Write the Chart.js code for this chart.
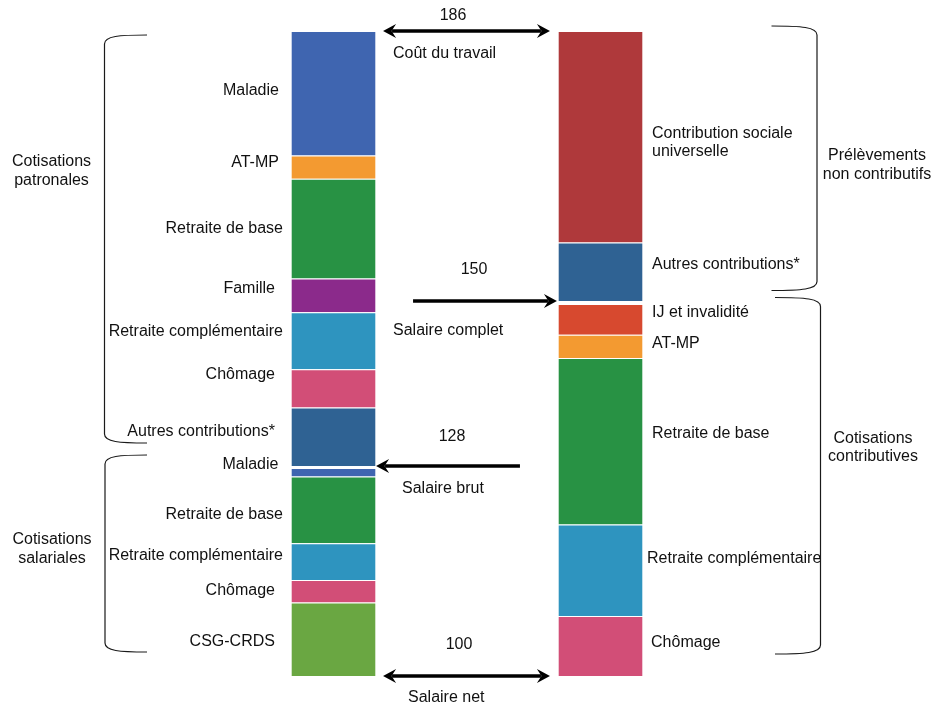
<!DOCTYPE html>
<html lang="fr">
<head>
<meta charset="utf-8">
<title>Du coût du travail au salaire net</title>
<script src="https://cdn.jsdelivr.net/npm/chart.js@4/dist/chart.umd.min.js"></script>
<style>
  html, body { margin: 0; padding: 0; background: #ffffff; }
  #wrap { width: 934px; height: 707px; position: relative; }
</style>
</head>
<body>
<div id="wrap"><canvas id="c" width="934" height="707"></canvas></div>
<script>
// Both columns start from the net wage (base 100) and stack upward.
const categories = ['Par payeur', 'Par nature'];
const salaireNet = 100;

// Left column, bottom to top
const salarialesLabels = ['CSG-CRDS', 'Chômage', 'Retraite complémentaire', 'Retraite de base', 'Maladie'];
const salarialesValues = [9.8, 3.0, 4.9, 8.9, 1.4];
const patronalesLabels = ['Autres contributions*', 'Chômage', 'Retraite complémentaire', 'Famille', 'Retraite de base', 'AT-MP', 'Maladie'];
const patronalesValues = [7.8, 5.1, 7.6, 4.5, 13.3, 3.1, 16.6];

// Right column, bottom to top
const contributivesLabels = ['Chômage', 'Retraite complémentaire', 'Retraite de base', 'AT-MP', 'IJ et invalidité'];
const contributivesValues = [8.0, 12.2, 22.2, 3.1, 4.5];
const nonContributifsLabels = ['Autres contributions*', ['Contribution sociale', 'universelle']];
const nonContributifsValues = [7.8, 28.2];

// Wage levels marked by arrows between the columns
const niveauxLabels = ['Salaire net', 'Salaire brut', 'Salaire complet', 'Coût du travail'];
const niveauxValues = [100, 128, 150, 186];

// Group captions next to the braces
const groupesLabels = [['Cotisations', 'patronales'], ['Cotisations', 'salariales'], ['Prélèvements', 'non contributifs'], ['Cotisations', 'contributives']];

// ---- styling ----
const COL = {
  maladie: '#3F65B0', atmp: '#F39A31', retraiteBase: '#289244', famille: '#8B2A8B',
  retraiteCompl: '#2E94BF', chomage: '#D24E77', autres: '#2F6293', csg: '#6AA742',
  csu: '#AF393B', ij: '#D7492F'
};
const salarialesColors = [COL.csg, COL.chomage, COL.retraiteCompl, COL.retraiteBase, COL.maladie];
const patronalesColors = [COL.autres, COL.chomage, COL.retraiteCompl, COL.famille, COL.retraiteBase, COL.atmp, COL.maladie];
const contributivesColors = [COL.chomage, COL.retraiteCompl, COL.retraiteBase, COL.atmp, COL.ij];
const nonContributifsColors = [COL.autres, COL.csu];

// label fine placement [dx, dy] in pixels
const salarialesNudge = [[-8, 2.5], [-8, -1], [0, -6.5], [0, 5], [-4.5, -7]];
const patronalesNudge = [[-8, -5], [-8, -14], [0, -9], [-8, -6.4], [0, 0], [-4, -4.5], [-4, -3]];
const contributivesNudge = [[-1, -3], [-5, -12], [0, -8], [0, -3], [0, -5]];
const nonContributifsNudge = [[0, -7], [0, 6]];

const FONT = '16px "Liberation Sans", Arial, Helvetica, sans-serif';
const INK = '#111111';

function segments(labels, values, colors, nudges, col, gapIndex, gapWidth) {
  return values.map((v, i) => {
    const gap = i === gapIndex;
    return {
      label: labels[i],
      data: col === 0 ? [v, null] : [null, v],
      backgroundColor: colors[i],
      borderColor: gap ? '#ffffff' : 'rgba(255,255,255,0.45)',
      borderWidth: { top: gap ? gapWidth : 1, bottom: 0, left: 0, right: 0 },
      borderSkipped: false,
      _col: col,
      _nudge: nudges[i]
    };
  });
}

const datasets = [
  { label: 'Salaire net', data: [salaireNet, salaireNet], backgroundColor: 'rgba(0,0,0,0)', borderWidth: 0 },
  ...segments(salarialesLabels, salarialesValues, salarialesColors, salarialesNudge, 0, salarialesValues.length - 1, 3),
  ...segments(patronalesLabels, patronalesValues, patronalesColors, patronalesNudge, 0, -1, 0),
  ...segments(contributivesLabels, contributivesValues, contributivesColors, contributivesNudge, 1, contributivesValues.length - 1, 4),
  ...segments(nonContributifsLabels, nonContributifsValues, nonContributifsColors, nonContributifsNudge, 1, -1, 0)
];

function drawLines(ctx, lines, x, cy, lh) {
  const arr = Array.isArray(lines) ? lines : [lines];
  const start = cy - (arr.length - 1) * lh / 2;
  arr.forEach((t, k) => ctx.fillText(t, x, start + k * lh));
}

// Labels beside each stacked segment
const segmentLabels = {
  id: 'segmentLabels',
  afterDatasetsDraw(chart) {
    const ctx = chart.ctx;
    ctx.save();
    ctx.font = FONT;
    ctx.fillStyle = INK;
    ctx.textBaseline = 'middle';
    chart.data.datasets.forEach((ds, i) => {
      if (ds._col === undefined) return;
      const el = chart.getDatasetMeta(i).data[ds._col];
      const p = el.getProps(['x', 'y', 'base', 'width'], true);
      const cy = (p.y + p.base) / 2 + ds._nudge[1];
      if (ds._col === 0) {
        ctx.textAlign = 'right';
        drawLines(ctx, ds.label, p.x - p.width / 2 - 8.5 + ds._nudge[0], cy, 18.5);
      } else {
        ctx.textAlign = 'left';
        drawLines(ctx, ds.label, p.x + p.width / 2 + 9.5 + ds._nudge[0], cy, 18.5);
      }
    });
    ctx.restore();
  }
};

function arrowHead(ctx, tx, y, dir) {
  // dir = +1 points right, -1 points left
  ctx.beginPath();
  ctx.moveTo(tx, y);
  ctx.lineTo(tx - dir * 13, y - 7);
  ctx.lineTo(tx - dir * 8.5, y);
  ctx.lineTo(tx - dir * 13, y + 7);
  ctx.closePath();
  ctx.fill();
}

// Arrows for the wage levels, placed on the value scale
const levelArrows = {
  id: 'levelArrows',
  afterDatasetsDraw(chart) {
    const ctx = chart.ctx;
    const y = chart.scales.y;
    const l = chart.getDatasetMeta(1).data[0].getProps(['x', 'width'], true);
    const r = chart.getDatasetMeta(chart.data.datasets.length - 1).data[1].getProps(['x', 'width'], true);
    const L = l.x + l.width / 2;   // right edge of left column
    const R = r.x - r.width / 2;   // left edge of right column
    const specs = [
      { a: L + 7.5, b: R - 8.5, heads: 'both', numX: 459, numDy: -31, nameX: 408, nameDy: 22 },
      { a: R - 38.5, b: L + 0.5, heads: 'end', numX: 452, numDy: -29.5, nameX: 402, nameDy: 22.5 },
      { a: L + 37.5, b: R - 1.5, heads: 'end', numX: 474, numDy: -31.5, nameX: 393, nameDy: 29.5 },
      { a: L + 7.5, b: R - 8.5, heads: 'both', numX: 453, numDy: -15.5, nameX: 393, nameDy: 23 }
    ];
    ctx.save();
    ctx.strokeStyle = '#000';
    ctx.fillStyle = '#000';
    ctx.lineWidth = 3.5;
    niveauxValues.forEach((v, i) => {
      const s = specs[i];
      const py = y.getPixelForValue(v);
      const dir = s.b > s.a ? 1 : -1;
      const a = s.heads === 'both' ? s.a + dir * 9 : s.a;
      ctx.beginPath();
      ctx.moveTo(a, py);
      ctx.lineTo(s.b - dir * 9, py);
      ctx.stroke();
      arrowHead(ctx, s.b, py, dir);
      if (s.heads === 'both') arrowHead(ctx, s.a, py, -dir);
      ctx.font = FONT;
      ctx.fillStyle = INK;
      ctx.textBaseline = 'middle';
      ctx.textAlign = 'center';
      ctx.fillText(String(v), s.numX, py + s.numDy);
      ctx.textAlign = 'left';
      ctx.fillText(niveauxLabels[i], s.nameX, py + s.nameDy);
      ctx.fillStyle = '#000';
    });
    ctx.restore();
  }
};

function brace(ctx, xv, xe, y1, y2) {
  const k = xv + (xe - xv) * 0.35;
  ctx.beginPath();
  ctx.moveTo(xe, y1);
  ctx.bezierCurveTo(k, y1, xv, y1 + 1, xv, y1 + 9);
  ctx.lineTo(xv, y2 - 9);
  ctx.bezierCurveTo(xv, y2 - 1, k, y2, xe, y2);
  ctx.stroke();
}

// Braces grouping the contributions, with their captions
const groupBraces = {
  id: 'groupBraces',
  afterDraw(chart) {
    const ctx = chart.ctx;
    const shapes = [
      { xv: 104.5, xe: 147, y1: 35, y2: 443, tx: 51.5, ty: 171, lh: 18.5 },
      { xv: 105, xe: 147, y1: 455, y2: 652, tx: 52, ty: 549, lh: 18.5 },
      { xv: 817, xe: 771.5, y1: 26, y2: 290.5, tx: 877, ty: 165, lh: 19.5 },
      { xv: 820.5, xe: 775, y1: 297.5, y2: 654, tx: 873, ty: 447.5, lh: 18.5 }
    ];
    ctx.save();
    ctx.strokeStyle = '#1a1a1a';
    ctx.lineWidth = 1.2;
    ctx.font = FONT;
    ctx.fillStyle = INK;
    ctx.textAlign = 'center';
    ctx.textBaseline = 'middle';
    shapes.forEach((s, i) => {
      brace(ctx, s.xv, s.xe, s.y1, s.y2);
      drawLines(ctx, groupesLabels[i], s.tx, s.ty, s.lh);
    });
    ctx.restore();
  }
};

new Chart(document.getElementById('c'), {
  type: 'bar',
  data: { labels: categories, datasets },
  options: {
    responsive: false,
    animation: false,
    devicePixelRatio: 1,
    events: [],
    layout: { padding: { left: 200, right: 200, top: 31, bottom: 31 } },
    datasets: { bar: { categoryPercentage: 1, barPercentage: 0.315 } },
    scales: {
      x: { display: false, stacked: true },
      y: { display: false, stacked: true, min: 100, max: 186 }
    },
    plugins: { legend: { display: false }, tooltip: { enabled: false } }
  },
  plugins: [segmentLabels, levelArrows, groupBraces]
});
</script>
</body>
</html>
